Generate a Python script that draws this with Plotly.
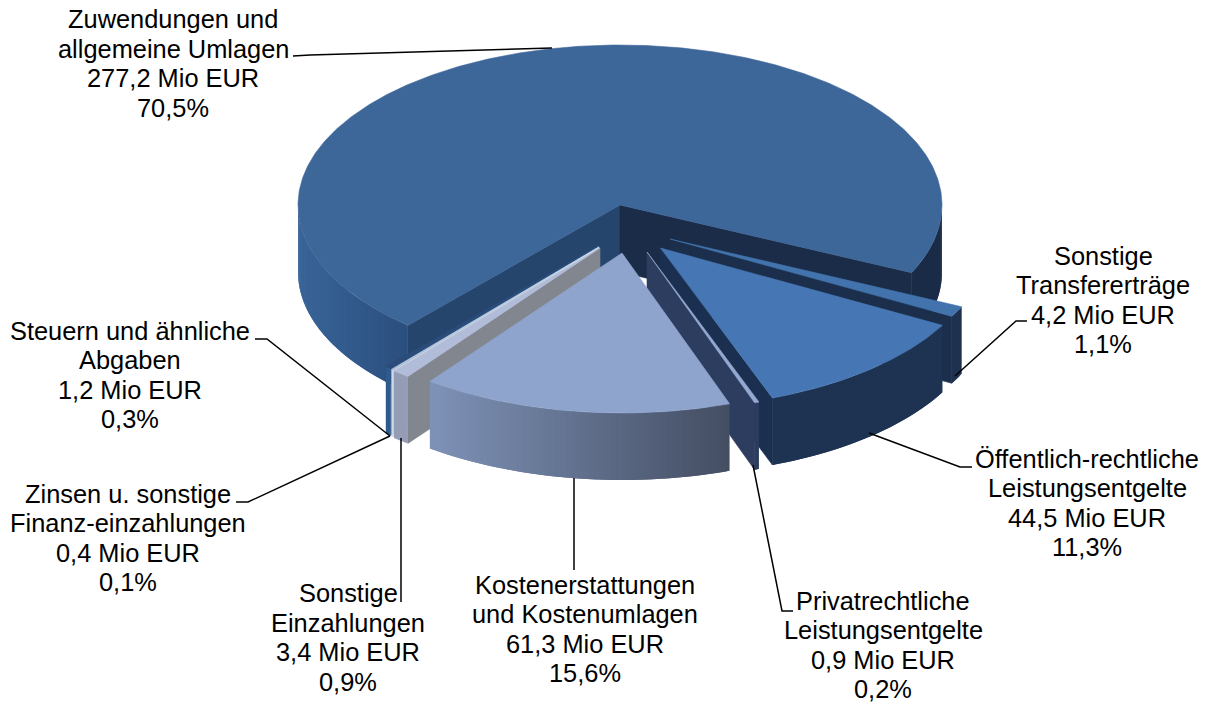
import numpy as np
import plotly.graph_objects as go

# ---- data -------------------------------------------------------------
names = [["Zuwendungen und", "allgemeine Umlagen"], ["Sonstige", "Transfererträge"],
         ["Öffentlich-rechtliche", "Leistungsentgelte"], ["Privatrechtliche", "Leistungsentgelte"],
         ["Kostenerstattungen", "und Kostenumlagen"], ["Sonstige", "Einzahlungen"],
         ["Zinsen u. sonstige", "Finanz-einzahlungen"], ["Steuern und ähnliche", "Abgaben"]]
mio_eur = [277.2, 4.2, 44.5, 0.9, 61.3, 3.4, 0.4, 1.2]
percent = ["70,5%", "1,1%", "11,3%", "0,2%", "15,6%", "0,9%", "0,1%", "0,3%"]

# ---- styling ----------------------------------------------------------
START_T = 131.2            # on-screen angle at which the first slice begins
RX, RY, DEPTH = 322, 160, 67
CENTER = (620, 205)
offsets = [(0, 0), (50, 34), (40.5, 43), (27, 47), (2, 48), (-20, 43), (-21, 42), (-22, 41)]
top_col = ["#3e6799", "#4273ad", "#4677b4", "#93a9d2", "#8fa4cd", "#b1bcd8", "#cdd8e8", "#2b4c78"]
edge_col = ["#1a2c47", "#1b2f4c", "#1b3050", "#2c3d5f", "#8fa4cd", "#82868f", "#cdd8e8", "#2f5a8c"]
start_edge_col = ["#25456d", "#1b2f4c", "#1b3050", "#2c3d5f", "#8fa4cd", "#82868f", "#cdd8e8", "#2f5a8c"]
wall_grad = [None, ("#1e3150",) * 2, ("#1e3352",) * 2, ("#2c3d5f",) * 2, ("#7f93b8", "#444e63"),
             ("#959db6", "#959db6"), ("#cdd8e8",) * 2, ("#2f5a8c",) * 2]
draw_order = [0, 7, 6, 5, 1, 2, 3, 4]

label_pos = [(173, 63.5), (1103, 300), (1087, 503), (883, 645), (584.5, 629), (348, 637.5), (128, 538), (130, 375)]
LINE_GAP = 29.4
leaders = [
    [(293, 56), (310, 55), (552, 48)],
    [(955, 376), (1016, 321), (1027, 321)],
    [(869, 433), (960, 467), (972, 467)],
    [(753, 465), (782, 611), (793, 611)],
    [(574, 478), (574, 570)],
    [(401, 438), (401, 602)],
    [(390, 436), (248, 502), (236, 502)],
    [(390, 436), (267, 339), (255, 339)],
]
FONT = "Liberation Sans, Arial, sans-serif"
FONT_SIZE = 25.4


def rgb(h):
    return np.array([int(h[i:i + 2], 16) for i in (1, 3, 5)], float)


def mix(a, b, f):
    c = rgb(a) * (1 - f) + rgb(b) * f
    return "rgb(%d,%d,%d)" % tuple(c)


fig = go.Figure()


def poly(xs, ys, color, lw=0.6):
    xs = list(xs) + [xs[0]]
    ys = list(ys) + [ys[0]]
    fig.add_trace(go.Scatter(x=xs, y=ys, mode="lines", fill="toself", fillcolor=color,
                             line=dict(color=color, width=lw), hoverinfo="skip", showlegend=False))


def pt(ax, ay, t):
    r = np.radians(t)
    return ax + RX * np.cos(r), ay + RY * np.sin(r)


total = sum(mio_eur)
spans = [v / total * 360 for v in mio_eur]
starts = START_T + np.concatenate([[0], np.cumsum(spans)[:-1]])

for i in draw_order:
    t0, t1 = starts[i], starts[i] + spans[i]
    ax, ay = CENTER[0] + offsets[i][0], CENTER[1] + offsets[i][1]

    # cut faces
    if np.sin(np.radians(t0 - 90)) > 0:
        x, y = pt(ax, ay, t0)
        poly([ax, x, x, ax], [ay, y, y + DEPTH, ay + DEPTH], start_edge_col[i])
    if np.cos(np.radians(t1)) > 0:
        x, y = pt(ax, ay, t1)
        poly([ax, x, x, ax], [ay, y, y + DEPTH, ay + DEPTH], edge_col[i])

    # rim, painted in strips that overlap so no seams show
    ts = np.unique(np.clip(np.arange(np.floor(t0), np.ceil(t1) + 1.0, 1.0), t0, t1))
    ts = np.unique(np.append(ts, t1))
    for k, (a, b) in enumerate(zip(ts[:-1], ts[1:])):
        m = (a + b) / 2 % 360
        if m >= 180 and not (a % 360 < 180):
            continue
        end = min(b + 1, t1)
        xm = pt(ax, ay, m)[0]
        if i == 0:
            c = mix("#3a6599", "#2b4f7e", np.clip((xm - 298) / 110, 0, 1)) if xm < 620 else "#1a2c47"
        else:
            sx0, sx1 = pt(ax, ay, t1)[0], pt(ax, ay, t0)[0]
            c = mix(wall_grad[i][0], wall_grad[i][1], np.clip((xm - sx0) / max(sx1 - sx0, 1e-6), 0, 1))
        arc = np.linspace(a, end, 4)
        arc = arc[(arc % 360) <= 181] if (a % 360) < 180 else arc
        ax_, ay_ = pt(ax, ay, arc)
        poly(list(ax_) + list(ax_[::-1]), list(ay_) + list(ay_[::-1] + DEPTH), c, lw=0)

    # top face
    arc = np.linspace(t0, t1, max(int(spans[i] * 2), 3))
    px, py = pt(ax, ay, arc)
    poly([ax] + list(px), [ay] + list(py), top_col[i])

for pts in leaders:
    fig.add_trace(go.Scatter(x=[p[0] for p in pts], y=[p[1] for p in pts], mode="lines",
                             line=dict(color="black", width=1.5), hoverinfo="skip", showlegend=False))

for i, (nm, v, pc) in enumerate(zip(names, mio_eur, percent)):
    lines = nm + [f"{str(v).replace('.', ',')} Mio EUR", pc]
    for k, line in enumerate(lines):
        fig.add_annotation(x=label_pos[i][0], y=label_pos[i][1] + (k - 1.5) * LINE_GAP, xref="x", yref="y",
                           text=line, showarrow=False, align="center", xanchor="center", yanchor="middle",
                           font=dict(family=FONT, size=FONT_SIZE, color="black"))

fig.update_layout(width=1209, height=702, margin=dict(l=0, r=0, t=0, b=0), showlegend=False,
                  paper_bgcolor="white", plot_bgcolor="white",
                  xaxis=dict(range=[0, 1209], visible=False, domain=[0, 1]),
                  yaxis=dict(range=[702, 0], visible=False, domain=[0, 1]))
fig.write_html("out.html", config={"displayModeBar": False},
               post_script="document.body.style.margin='0';")
